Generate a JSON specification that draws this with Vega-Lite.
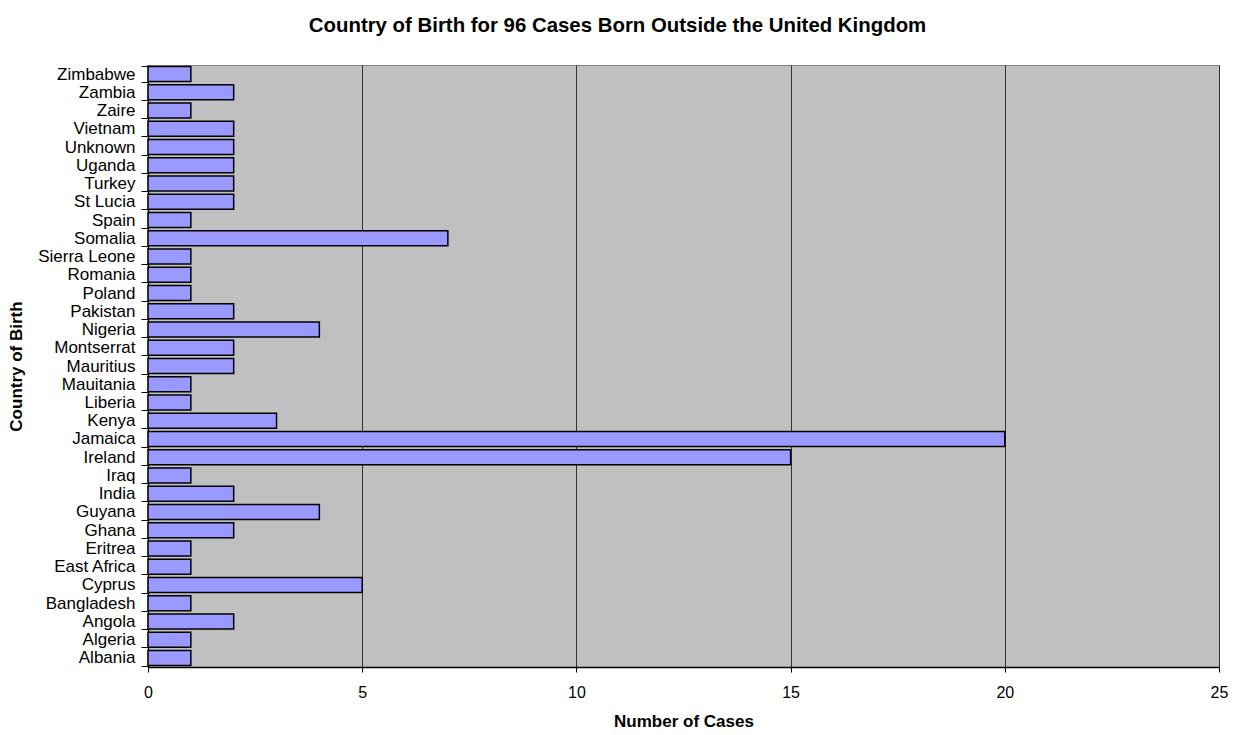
{
  "$schema": "https://vega.github.io/schema/vega-lite/v6.json",
  "autosize": "none",
  "width": 1071,
  "height": 602,
  "padding": {"left": 148, "top": 65, "right": 21, "bottom": 68},
  "background": "white",
  "config": {
    "font": "Liberation Sans",
    "view": {"fill": "#C0C0C0", "stroke": "#808080", "strokeWidth": 1}
  },
  "title": {
    "text": "Country of Birth for 96 Cases Born Outside the United Kingdom",
    "fontSize": 20.4,
    "fontWeight": "bold",
    "font": "Liberation Sans",
    "color": "black",
    "anchor": "middle",
    "dx": -66,
    "offset": 20
  },
  "data": {
    "values": [
      {"country": "Albania", "cases": 1},
      {"country": "Algeria", "cases": 1},
      {"country": "Angola", "cases": 2},
      {"country": "Bangladesh", "cases": 1},
      {"country": "Cyprus", "cases": 5},
      {"country": "East Africa", "cases": 1},
      {"country": "Eritrea", "cases": 1},
      {"country": "Ghana", "cases": 2},
      {"country": "Guyana", "cases": 4},
      {"country": "India", "cases": 2},
      {"country": "Iraq", "cases": 1},
      {"country": "Ireland", "cases": 15},
      {"country": "Jamaica", "cases": 20},
      {"country": "Kenya", "cases": 3},
      {"country": "Liberia", "cases": 1},
      {"country": "Mauitania", "cases": 1},
      {"country": "Mauritius", "cases": 2},
      {"country": "Montserrat", "cases": 2},
      {"country": "Nigeria", "cases": 4},
      {"country": "Pakistan", "cases": 2},
      {"country": "Poland", "cases": 1},
      {"country": "Romania", "cases": 1},
      {"country": "Sierra Leone", "cases": 1},
      {"country": "Somalia", "cases": 7},
      {"country": "Spain", "cases": 1},
      {"country": "St Lucia", "cases": 2},
      {"country": "Turkey", "cases": 2},
      {"country": "Uganda", "cases": 2},
      {"country": "Unknown", "cases": 2},
      {"country": "Vietnam", "cases": 2},
      {"country": "Zaire", "cases": 1},
      {"country": "Zambia", "cases": 2},
      {"country": "Zimbabwe", "cases": 1}
    ]
  },
  "mark": {"type": "bar", "fill": "#9999FF", "stroke": "black", "strokeWidth": 1.5},
  "encoding": {
    "y": {
      "field": "country",
      "type": "nominal",
      "sort": "descending",
      "scale": {"paddingInner": 0.17, "paddingOuter": 0.08},
      "axis": {
        "title": "Country of Birth",
        "titleFontSize": 17,
        "titleFontWeight": "bold",
        "titleColor": "black",
        "titlePadding": 12,
        "labelFontSize": 17,
        "labelColor": "black",
        "labelPadding": 6,
        "tickBand": "extent",
        "tickSize": 7,
        "tickColor": "black",
        "domainColor": "black",
        "domainWidth": 1.5,
        "grid": false
      }
    },
    "x": {
      "field": "cases",
      "type": "quantitative",
      "scale": {"domain": [0, 25], "nice": false},
      "axis": {
        "title": "Number of Cases",
        "titleFontSize": 17,
        "titleFontWeight": "bold",
        "titleColor": "black",
        "titlePadding": 13,
        "values": [0, 5, 10, 15, 20, 25],
        "labelFontSize": 16,
        "labelColor": "black",
        "labelPadding": 12,
        "labelFlush": false,
        "tickSize": 5,
        "tickColor": "black",
        "domainColor": "black",
        "domainWidth": 1.5,
        "grid": true,
        "gridColor": "#333333",
        "gridWidth": 1
      }
    }
  }
}
